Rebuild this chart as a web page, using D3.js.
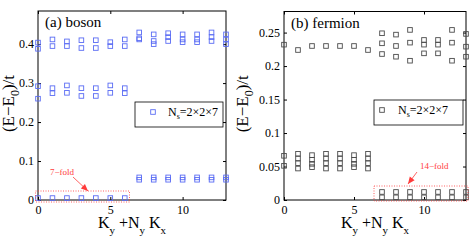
<!DOCTYPE html>
<html>
<head>
<meta charset="utf-8">
<script src="https://cdn.jsdelivr.net/npm/d3@7"></script>
<style>
  body { margin: 0; background: #fff; }
  svg { display: block; }
  text { font-family: "Liberation Serif", "Times New Roman", serif; }
</style>
</head>
<body>
<svg width="471" height="242"></svg>
<script>
// momentum index K_y + N_y K_x
var kVals = [0, 1, 2, 3, 4, 5, 6, 7, 8, 9, 10, 11, 12, 13];

// (a) boson: energies (E-E0)/t at each k
var bosonLevels = [
  [0.005, 0.260, 0.292, 0.388, 0.404],
  [0.005, 0.274, 0.287, 0.395, 0.412],
  [0.005, 0.275, 0.294, 0.395, 0.407],
  [0.005, 0.267, 0.287, 0.390, 0.410],
  [0.005, 0.267, 0.287, 0.390, 0.410],
  [0.005, 0.275, 0.294, 0.395, 0.405],
  [0.005, 0.274, 0.287, 0.395, 0.412],
  [0.052, 0.058, 0.412, 0.415, 0.430],
  [0.052, 0.058, 0.400, 0.408, 0.425],
  [0.052, 0.058, 0.408, 0.418, 0.428],
  [0.052, 0.058, 0.405, 0.412, 0.425],
  [0.052, 0.058, 0.405, 0.412, 0.425],
  [0.052, 0.058, 0.408, 0.418, 0.430],
  [0.052, 0.058, 0.400, 0.412, 0.425]
];

// (b) fermion
var fermionLevels = [
  [0.051, 0.066, 0.232],
  [0.047, 0.055, 0.062, 0.069, 0.224],
  [0.049, 0.054, 0.060, 0.067, 0.230],
  [0.047, 0.055, 0.062, 0.069, 0.230],
  [0.047, 0.055, 0.062, 0.069, 0.230],
  [0.049, 0.054, 0.060, 0.067, 0.230],
  [0.047, 0.055, 0.062, 0.069, 0.224],
  [0.004, 0.012, 0.218, 0.234, 0.249],
  [0.004, 0.012, 0.214, 0.230, 0.247],
  [0.004, 0.012, 0.208, 0.235, 0.254],
  [0.004, 0.012, 0.219, 0.232, 0.239],
  [0.004, 0.012, 0.219, 0.232, 0.239],
  [0.004, 0.012, 0.208, 0.235, 0.254],
  [0.004, 0.012, 0.214, 0.229, 0.248]
];

var xTicks = [0, 5, 10];
var yTicksA = [0, 0.1, 0.2, 0.3, 0.4];
var yTicksB = [0, 0.05, 0.1, 0.15, 0.2, 0.25];

var svg = d3.select("svg");
var red = "#ff3b3b";

function panel(opt) {
  var x = d3.scaleLinear().domain([0, 13]).range([opt.left, opt.right]);
  var y = d3.scaleLinear().domain([0, opt.ymax]).range([opt.bottom, opt.top]);
  var g = svg.append("g");
  var fmt = function(d) { return d === 0 ? "0" : String(d); };

  // axes, ticks pointing inward (matlab style)
  g.append("g").attr("transform", "translate(0," + opt.bottom + ")")
    .call(d3.axisBottom(x).tickValues(xTicks).tickSizeInner(-3).tickSizeOuter(0).tickPadding(5).tickFormat(fmt));
  g.append("g").attr("transform", "translate(0," + opt.top + ")")
    .call(d3.axisTop(x).tickValues(xTicks).tickSizeInner(-3).tickSizeOuter(0).tickFormat(""));
  g.append("g").attr("transform", "translate(" + opt.left + ",0)")
    .call(d3.axisLeft(y).tickValues(opt.yTicks).tickSizeInner(-3).tickSizeOuter(0).tickPadding(4).tickFormat(fmt));
  g.append("g").attr("transform", "translate(" + opt.right + ",0)")
    .call(d3.axisRight(y).tickValues(opt.yTicks).tickSizeInner(-3).tickSizeOuter(0).tickFormat(""));
  g.selectAll(".domain").remove();
  g.selectAll(".tick line").attr("stroke", "#000");
  g.selectAll(".tick text").attr("font-size", 12).attr("fill", "#000")
    .style("font-family", "Liberation Serif");

  g.append("rect")
    .attr("x", opt.left).attr("y", opt.top)
    .attr("width", opt.right - opt.left).attr("height", opt.bottom - opt.top)
    .attr("fill", "none").attr("stroke", "#000").attr("stroke-width", 1);

  // points
  var pts = [];
  opt.levels.forEach(function(vals, i) {
    vals.forEach(function(v) { pts.push({k: kVals[i], e: v}); });
  });
  var s = 4.6;
  g.selectAll("rect.pt").data(pts).enter().append("rect")
    .attr("class", "pt")
    .attr("x", function(d) { return x(d.k) - s / 2; })
    .attr("y", function(d) { return y(d.e) - s / 2; })
    .attr("width", s).attr("height", s)
    .attr("fill", "none").attr("stroke", opt.color).attr("stroke-width", 0.9);

  // title
  g.append("text").attr("x", opt.left + 7).attr("y", opt.top + 16)
    .attr("font-size", 15).text(opt.title);

  // x label
  var xl = g.append("text").attr("x", (opt.left + opt.right) / 2).attr("y", 228)
    .attr("text-anchor", "middle").attr("font-size", 16);
  xl.append("tspan").text("K");
  xl.append("tspan").attr("font-size", 11).attr("dy", 6).text("y");
  xl.append("tspan").attr("dy", -6).text(" +N");
  xl.append("tspan").attr("font-size", 11).attr("dy", 6).text("y");
  xl.append("tspan").attr("dy", -6).text(" K");
  xl.append("tspan").attr("font-size", 11).attr("dy", 6).text("x");

  // y label
  var yl = g.append("text")
    .attr("transform", "translate(" + opt.ylabX + "," + ((opt.top + opt.bottom) / 2 - 2) + ") rotate(-90)")
    .attr("text-anchor", "middle").attr("font-size", 17);
  yl.append("tspan").text("(E\u2212E");
  yl.append("tspan").attr("font-size", 12).attr("dy", 5).text("0");
  yl.append("tspan").attr("dy", -5).text(")/t");

  // legend
  var lg = opt.legend;
  g.append("rect").attr("x", lg.x0).attr("y", lg.y0)
    .attr("width", lg.x1 - lg.x0).attr("height", lg.y1 - lg.y0)
    .attr("fill", "#fff").attr("stroke", "#000").attr("stroke-width", 0.8);
  g.append("rect").attr("x", lg.mx - s / 2).attr("y", lg.y0 + 10 - s / 2)
    .attr("width", s).attr("height", s)
    .attr("fill", "none").attr("stroke", opt.color).attr("stroke-width", 0.9);
  var lt = g.append("text").attr("x", lg.tx).attr("y", lg.y0 + 14).attr("font-size", 12);
  lt.append("tspan").text("N");
  lt.append("tspan").attr("font-size", 8).attr("dy", 3).text("s");
  lt.append("tspan").attr("dy", -3).text("=2\u00d72\u00d77");

  // degeneracy annotation
  var an = opt.note;
  g.append("rect").attr("x", an.rx0).attr("y", an.ry0)
    .attr("width", an.rx1 - an.rx0).attr("height", an.ry1 - an.ry0)
    .attr("fill", "none").attr("stroke", red).attr("stroke-width", 0.8)
    .attr("stroke-dasharray", "1,1.5");
  g.append("text").attr("x", an.tx).attr("y", an.ty).attr("font-size", 9)
    .attr("fill", red).text(an.text);
  g.append("line").attr("x1", an.ax0).attr("y1", an.ay0).attr("x2", an.ax1).attr("y2", an.ay1)
    .attr("stroke", red).attr("stroke-width", 0.8);
  var ang = Math.atan2(an.ay1 - an.ay0, an.ax1 - an.ax0);
  var hl = 7, hw = 3;
  var bx = an.ax1 - hl * Math.cos(ang), by = an.ay1 - hl * Math.sin(ang);
  g.append("path")
    .attr("d", "M" + an.ax1 + "," + an.ay1 +
      "L" + (bx - hw * Math.sin(ang)) + "," + (by + hw * Math.cos(ang)) +
      "L" + (bx + hw * Math.sin(ang)) + "," + (by - hw * Math.cos(ang)) + "Z")
    .attr("fill", red);
}

panel({
  left: 38, right: 226, top: 11, bottom: 200, ymax: 0.485,
  yTicks: yTicksA, levels: bosonLevels, color: "#5a6cf4",
  title: "(a) boson", ylabX: 14,
  legend: {x0: 135, y0: 102, x1: 223, y1: 127, mx: 153, tx: 168},
  note: {rx0: 35.5, ry0: 191, rx1: 129.5, ry1: 202, tx: 50, ty: 175, text: "7\u2212fold",
         ax0: 73, ay0: 177, ax1: 88, ay1: 191}
});

panel({
  left: 284, right: 466, top: 11.5, bottom: 200, ymax: 0.2815,
  yTicks: yTicksB, levels: fermionLevels, color: "#4a4a4a",
  title: "(b) fermion", ylabX: 248,
  legend: {x0: 374, y0: 100, x1: 463, y1: 125, mx: 382, tx: 398},
  note: {rx0: 374, ry0: 186, rx1: 468, ry1: 201, tx: 420, ty: 169, text: "14\u2212fold",
         ax0: 417, ay0: 172, ax1: 408, ay1: 184}
});
</script>
</body>
</html>
